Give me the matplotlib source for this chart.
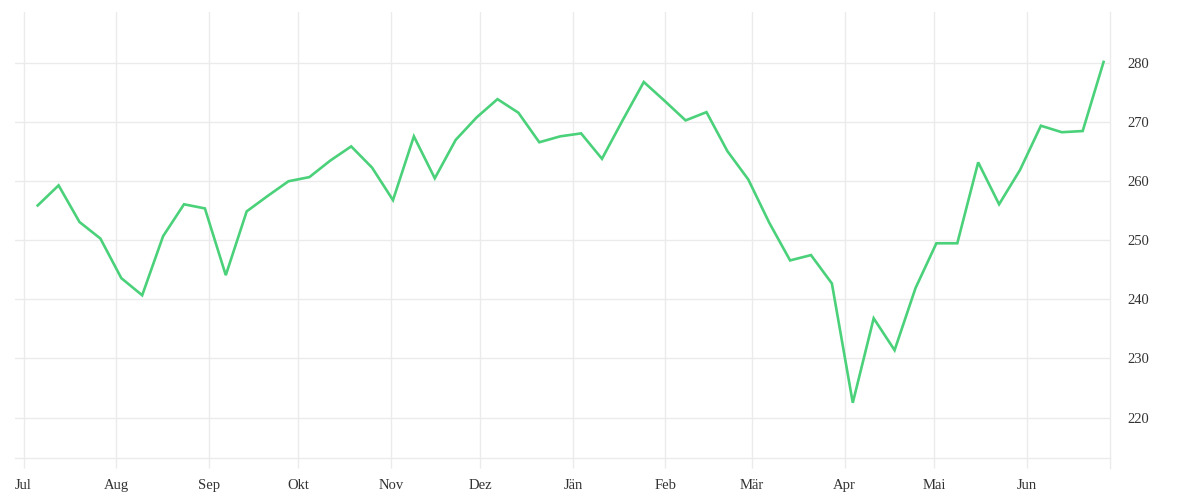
import matplotlib
matplotlib.use("Agg")
import matplotlib.pyplot as plt
import pandas as pd

# Weekly values
values = [255.9, 259.3, 253.1, 250.3, 243.6, 240.7, 250.7, 256.1, 255.4, 244.1,
          254.9, 257.5, 260.0, 260.7, 263.5, 265.9, 262.3, 256.8, 267.6, 260.5,
          267.0, 270.8, 273.9, 271.6, 266.6, 267.6, 268.1, 263.8, 270.4, 276.8,
          273.6, 270.3, 271.7, 265.1, 260.3, 253.0, 246.6, 247.5, 242.7, 222.5,
          236.8, 231.4, 241.9, 249.5, 249.5, 263.2, 256.1, 261.9, 269.4, 268.3,
          268.5, 280.2]
dates = pd.date_range("2019-07-05 18:00", periods=len(values), freq="7D")

month_ticks = pd.date_range("2019-07-01", "2020-06-01", freq="MS")
month_labels = ["Jul", "Aug", "Sep", "Okt", "Nov", "Dez", "Jän", "Feb",
                "Mär", "Apr", "Mai", "Jun"]
y_ticks = [220, 230, 240, 250, 260, 270, 280]

plt.rcParams["font.family"] = ["Liberation Serif", "DejaVu Serif"]

fig = plt.figure(figsize=(12, 5), dpi=100)
ax_h = (458.3 - 12.3) / 500
ax = fig.add_axes([15.3 / 1200, 41.7 / 500, (1110.3 - 15.3) / 1200, ax_h])

grid_c = "#ebebeb"
ax.plot(dates, values, color="#4ad17a", linewidth=1.9, solid_joinstyle="miter", zorder=3)

ax.set_xlim(pd.Timestamp("2019-06-28 06:00"), pd.Timestamp("2020-06-29 00:00"))
ax.set_ylim(213.1, 288.6)

ax.set_xticks(month_ticks)
ax.set_xticklabels(month_labels)
ax.set_yticks(y_ticks)
ax.set_yticklabels([str(v) for v in y_ticks])

ax.yaxis.tick_right()
ax.grid(True, color=grid_c, linewidth=1)
ax.set_axisbelow(True)
for s in ["top", "left"]:
    ax.spines[s].set_visible(False)
for s in ["bottom", "right"]:
    ax.spines[s].set_color(grid_c)
    ax.spines[s].set_linewidth(1)

# right spine continues below the baseline like the ticks
ext = 10 / (ax_h * 500)
ax.plot([1, 1], [-ext, 0], transform=ax.transAxes, clip_on=False,
        color=grid_c, linewidth=1)

ax.tick_params(axis="x", length=7.2, width=1, color=grid_c, pad=7.5,
               labelsize=10.5, labelcolor="#333333")
ax.tick_params(axis="y", length=0, pad=12.3, labelsize=10.5, labelcolor="#333333")

fig.savefig("out.png", dpi=100, facecolor="white")
